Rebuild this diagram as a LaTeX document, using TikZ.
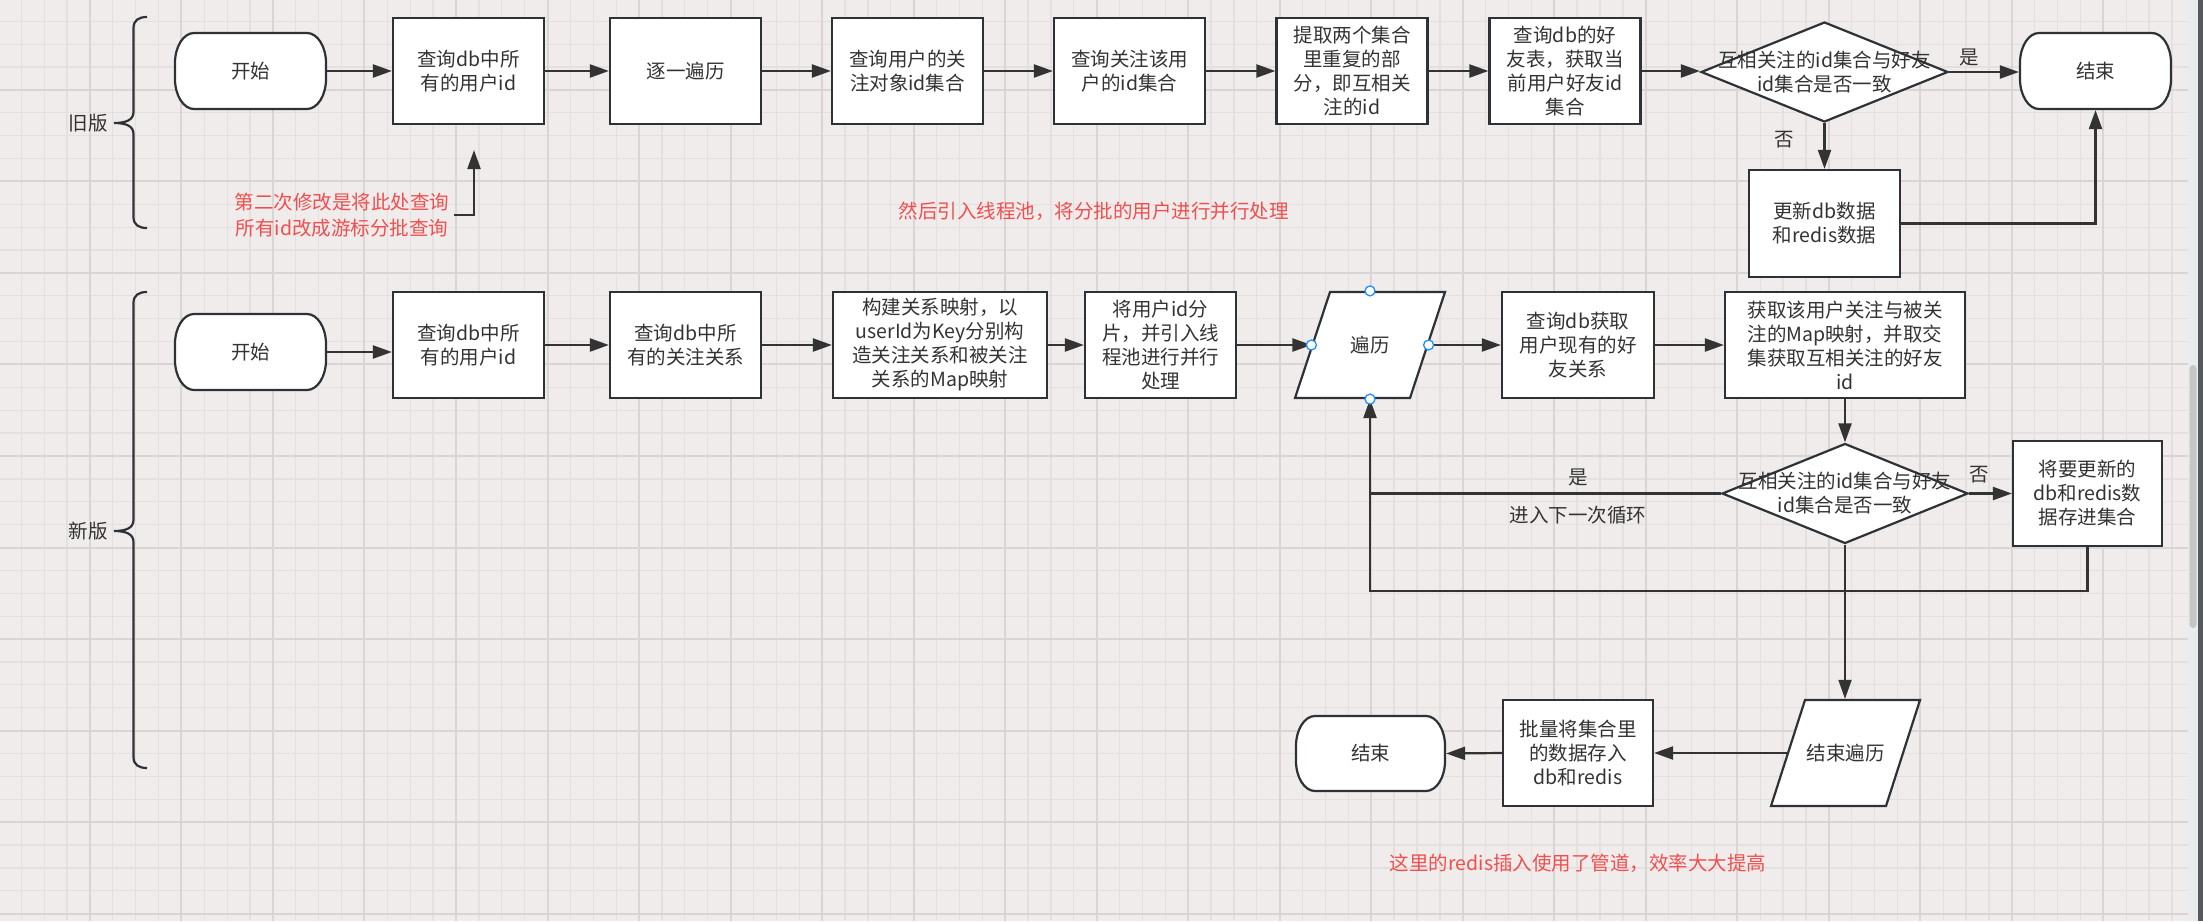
\documentclass[tikz,border=0pt]{standalone}
\usepackage{fontspec}
\setmainfont{Noto Sans CJK SC}
\usetikzlibrary{shapes.geometric,arrows.meta,calc}
\definecolor{bgc}{HTML}{EFECEB}
\definecolor{gridminor}{HTML}{E3E0DF}
\definecolor{gridmajor}{HTML}{D8D5D4}
\definecolor{linec}{HTML}{333333}
\definecolor{borderc}{HTML}{2E3135}
\definecolor{textc}{HTML}{333333}
\definecolor{redc}{HTML}{EF4F4F}
\definecolor{handlec}{HTML}{1E90FF}
\definecolor{trackc}{HTML}{EAEBED}
\definecolor{thumbc}{HTML}{C6C6C6}
\definecolor{edgec}{HTML}{55585C}
\newcommand\boxfont{\fontsize{19.5}{24}\selectfont}
\newcommand\annfont{\fontsize{19.5}{26.5}\selectfont}
\tikzset{
  shapeline/.style={draw=borderc, line width=2.2pt, fill=white},
  box/.style={shapeline, rectangle, minimum width=151pt, minimum height=106pt,
    inner sep=0pt, text=textc, align=center, font=\boxfont},
  term/.style={rectangle, minimum width=151pt, minimum height=76pt, inner sep=0pt,
    outer sep=1.1pt, text=textc, font=\boxfont},
  decision/.style={shapeline, diamond, minimum width=247pt, minimum height=100pt, inner sep=0pt},
  dtext/.style={text=textc, align=center, font=\boxfont, inner sep=0pt},
  iobox/.style={rectangle, minimum width=115pt, minimum height=106pt, inner sep=0pt,
    outer sep=1.1pt, text=textc, font=\boxfont},
  lbl/.style={text=textc, font=\boxfont, inner sep=0pt},
  ann/.style={text=redc, font=\annfont, align=center, inner sep=5pt},
  conn/.style={draw=linec, line width=2.2pt},
  arr/.style={conn, -{Triangle[length=19pt,width=13pt]}},
  handle/.style={circle, draw=handlec, fill=white, line width=1.3pt, minimum size=10pt, inner sep=0pt},
  bracel/.style={draw=borderc, line width=2.2pt}
}
% terminal outline: centre x, centre y, width, height
\newcommand\termshape[4]{%
  \pgfmathsetmacro\tmL{#1-#3/2}\pgfmathsetmacro\tmR{#1+#3/2}%
  \pgfmathsetmacro\tmT{#2-#4/2}\pgfmathsetmacro\tmB{#2+#4/2}%
  \draw[shapeline] (\tmL+19,\tmT) -- (\tmR-19,\tmT)
    .. controls (\tmR-8.5,\tmT) and (\tmR,\tmT+13.5) .. (\tmR,\tmT+30)
    -- (\tmR,\tmB-30)
    .. controls (\tmR,\tmB-13.5) and (\tmR-8.5,\tmB) .. (\tmR-19,\tmB)
    -- (\tmL+19,\tmB)
    .. controls (\tmL+8.5,\tmB) and (\tmL,\tmB-13.5) .. (\tmL,\tmB-30)
    -- (\tmL,\tmT+30)
    .. controls (\tmL,\tmT+13.5) and (\tmL+8.5,\tmT) .. (\tmL+19,\tmT) -- cycle;}
% parallelogram outline: centre x, centre y, total width, height, slant
\newcommand\parashape[5]{%
  \pgfmathsetmacro\tmL{#1-#3/2}\pgfmathsetmacro\tmR{#1+#3/2}%
  \pgfmathsetmacro\tmT{#2-#4/2}\pgfmathsetmacro\tmB{#2+#4/2}%
  \draw[shapeline] (\tmL,\tmB) -- (\tmL+#5,\tmT) -- (\tmR,\tmT) -- (\tmR-#5,\tmB) -- cycle;}
\begin{document}
\begin{tikzpicture}[x=1pt,y=-1pt]
\useasboundingbox (0,0) rectangle (2203,921);
\fill[bgc] (0,0) rectangle (2203,921);
% grid
\foreach \i in {0,...,95}{\pgfmathsetmacro\gx{-1.6+22.88*\i}\draw[gridminor,line width=1.3pt] (\gx,0) -- (\gx,921);}
\foreach \i in {0,...,40}{\pgfmathsetmacro\gy{-1.6+22.88*\i}\draw[gridminor,line width=1.3pt] (0,\gy) -- (2188,\gy);}
\foreach \i in {0,...,23}{\pgfmathsetmacro\gx{-1.6+91.52*\i}\draw[gridmajor,line width=2pt] (\gx,0) -- (\gx,921);}
\foreach \i in {0,...,10}{\pgfmathsetmacro\gy{-1.6+91.52*\i}\draw[gridmajor,line width=2pt] (0,\gy) -- (2188,\gy);}
% scrollbar
\fill[trackc] (2188,0) rectangle (2197.5,921);
\fill[edgec] (2197.5,0) rectangle (2203,921);
\fill[thumbc, rounded corners=3.5pt] (2189.5,365) rectangle (2196.5,628);

% braces
\draw[bracel] (147,17) .. controls (139,17) and (133.5,20) .. (133.5,28) -- (133.5,112)
  .. controls (133.5,120) and (126,123) .. (114,123)
  .. controls (126,123) and (133.5,126) .. (133.5,134) -- (133.5,217)
  .. controls (133.5,225) and (139,228) .. (147,228);
\draw[bracel] (147,292) .. controls (139,292) and (133.5,295) .. (133.5,303) -- (133.5,520)
  .. controls (133.5,528) and (126,531) .. (114,531)
  .. controls (126,531) and (133.5,534) .. (133.5,542) -- (133.5,757)
  .. controls (133.5,765) and (139,768) .. (147,768);
\node[lbl] (oldlbl) at (88,123) {旧版};
\node[lbl] (newlbl) at (88,531) {新版};

% ---------- old version ----------
\termshape{250.5}{71}{151}{76}
\node[term] (os) at (250.5,71) {开始};
\node[box] (o1) at (468.5,71) {查询db中所\\有的用户id};
\node[box] (o2) at (685.5,71) {逐一遍历};
\node[box] (o3) at (907.5,71) {查询用户的关\\注对象id集合};
\node[box] (o4) at (1129.5,71) {查询关注该用\\户的id集合};
\node[box] (o5) at (1352,71) {提取两个集合\\里重复的部\\分，即互相关\\注的id};
\node[box] (o6) at (1565,71) {查询db的好\\友表，获取当\\前用户好友id\\集合};
\node[decision] (od) at (1824.5,72) {};
\node[dtext] (odt) at (od.center) {互相关注的id集合与好友\\id集合是否一致};
\termshape{2095.5}{71}{151}{76}
\node[term] (oe) at (2095.5,71) {结束};
\node[box, minimum height=107pt] (o7) at (1824.5,223.5) {更新db数据\\和redis数据};

\draw[arr] (os) -- (o1);
\draw[arr] (o1) -- (o2);
\draw[arr] (o2) -- (o3);
\draw[arr] (o3) -- (o4);
\draw[arr] (o4) -- (o5);
\draw[arr] (o5) -- (o6);
\draw[arr] (o6.east) -- (o6.east -| od.west);
\draw[arr] (od.east) -- (od.east -| oe.west);
\draw[arr] (od.south) -- (o7.north);
\draw[arr] (o7.east) -| (oe.south);
\node[lbl] (oyes) at (1969,57) {是};
\node[lbl] (ono) at (1784,140) {否};

\node[ann] (ann1) at (342,215) {第二次修改是将此处查询\\所有id改成游标分批查询};
\coordinate (annTip) at (474,150);
\draw[arr] (ann1.east) -| (annTip);
\node[ann] (ann2) at (1093.5,211) {然后引入线程池，将分批的用户进行并行处理};

% ---------- new version ----------
\termshape{250.5}{352}{151}{76}
\node[term] (ns) at (250.5,352) {开始};
\node[box] (n1) at (468.5,345) {查询db中所\\有的用户id};
\node[box] (n2) at (685.5,345) {查询db中所\\有的关注关系};
\node[box, minimum width=214pt] (n3) at (940,345) {构建关系映射，以\\userId为Key分别构\\造关注关系和被关注\\关系的Map映射};
\node[box] (n4) at (1160.5,345) {将用户id分\\片，并引入线\\程池进行并行\\处理};
\parashape{1370}{345}{150}{106}{35}
\node[iobox] (trav) at (1370,345) {遍历};
\node[box, minimum width=152pt] (n5) at (1578,345) {查询db获取\\用户现有的好\\友关系};
\node[box, minimum width=240pt] (n6) at (1845,345) {获取该用户关注与被关\\注的Map映射，并取交\\集获取互相关注的好友\\id};
\node[decision, minimum width=246pt, minimum height=100pt] (nd) at (1845,493.5) {};
\node[dtext] (ndt) at (nd.center) {互相关注的id集合与好友\\id集合是否一致};
\node[box, minimum width=149pt, minimum height=105pt] (n7) at (2087.5,493.5) {将要更新的\\db和redis数\\据存进集合};
\parashape{1845.5}{753}{149}{106}{34}
\node[iobox, minimum width=115pt] (etrav) at (1845.5,753) {结束遍历};
\node[box, minimum width=150pt] (n8) at (1578,753) {批量将集合里\\的数据存入\\db和redis};
\termshape{1370.5}{753.5}{149}{75}
\node[term, minimum width=149pt, minimum height=75pt] (ne) at (1370.5,753.5) {结束};

\draw[arr] (ns.east) -- (ns.east -| n1.west);
\draw[arr] (n1) -- (n2);
\draw[arr] (n2) -- (n3);
\draw[arr] (n3) -- (n4);
\draw[arr] (n4) -- (trav.west);
\draw[arr] (trav.east) -- (n5);
\draw[arr] (n5) -- (n6);
\draw[arr] (n6) -- (nd);
\draw[arr] (nd) -- (n7);
\draw[arr] (nd.west) -| (trav.south);
\coordinate (loopc) at (1370,591);
\draw[conn] (n7.south) |- (loopc) -- (trav.south |- nd.west);
\draw[arr, line width=1.7pt] (nd.south) -- (nd.south |- etrav.north);
\draw[arr] (etrav.west) -- (n8.east);
\draw[arr] (n8.west) -- (ne.east);
\node[lbl] (nno) at (1979,475) {否};
\node[lbl] (nyes) at (1578,477) {是};
\node[lbl] (nloop) at (1578,515) {进入下一次循环};
\node[ann] (ann3) at (1578,863) {这里的redis插入使用了管道，效率大大提高};

% selection handles on 遍历
\node[handle] (h1) at (trav.north) {};
\node[handle] (h2) at (trav.south) {};
\node[handle] (h3) at (trav.west) {};
\node[handle] (h4) at (trav.east) {};
\end{tikzpicture}
\end{document}
